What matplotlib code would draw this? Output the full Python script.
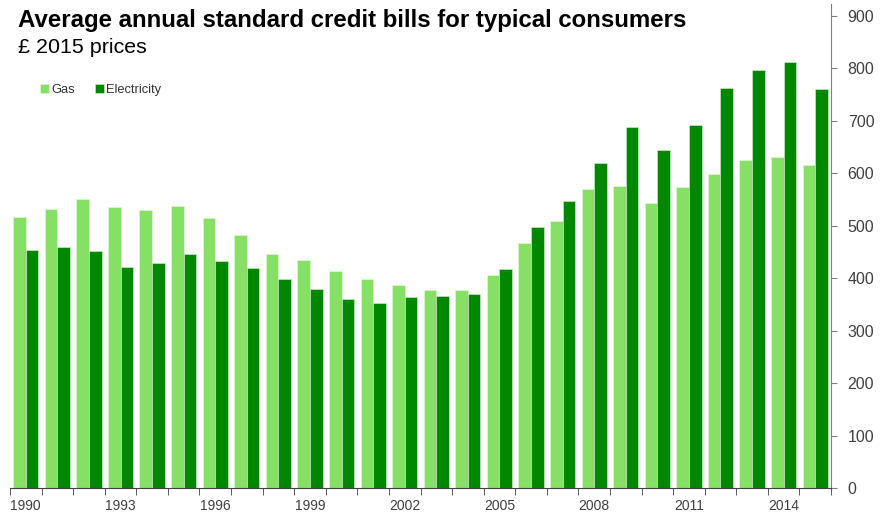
import matplotlib.pyplot as plt
import numpy as np

# Дані: роки та рахунки (£, ціни 2015 року)
years = list(range(1990, 2016))
gas = [516, 532, 551, 536, 531, 538, 514, 482, 446, 435, 414, 398, 387,
       378, 378, 406, 468, 510, 570, 575, 543, 574, 599, 625, 632, 616]
electricity = [454, 460, 452, 421, 429, 446, 433, 420, 398, 379, 360, 353, 365,
               366, 370, 418, 497, 547, 620, 688, 645, 693, 763, 797, 813, 760]
label_years = [1990, 1993, 1996, 1999, 2002, 2005, 2008, 2011, 2014]
y_ticks = [0, 100, 200, 300, 400, 500, 600, 700, 800, 900]

gas_color = "#86e066"
elec_color = "#008700"

plt.rcParams["font.family"] = ["Liberation Sans", "DejaVu Sans"]

fig = plt.figure(figsize=(8.91, 5.13), dpi=100)
ax = fig.add_axes([10 / 891, 25 / 513, 821 / 891, 484 / 513])

x = np.arange(len(years))
w = 0.4
ax.bar(x - w / 2, gas, w, color=gas_color, edgecolor="#e6f7df", linewidth=0.4, label="Gas")
ax.bar(x + w / 2, electricity, w, color=elec_color, edgecolor="#d8efd2", linewidth=0.4,
       label="Electricity")

ax.set_xlim(-0.5, len(years) - 0.5)
ax.set_ylim(0, 923)

# Вісь Y праворуч
ax.yaxis.tick_right()
ax.set_yticks(y_ticks)
ax.tick_params(axis="y", direction="out", length=4, color="#808080", labelsize=11.5,
               labelcolor="#404040", pad=8)

# Вісь X: риски між роками, підписи кожні 3 роки
ax.set_xticks(x[::3])
ax.set_xticklabels([str(y) for y in label_years])
ax.set_xticks(np.arange(-0.5, len(years), 1), minor=True)
ax.tick_params(axis="x", which="major", length=0, labelsize=10, labelcolor="#404040", pad=8)
ax.tick_params(axis="x", which="minor", length=5, color="#404040", direction="out")

for s in ["left", "top"]:
    ax.spines[s].set_visible(False)
ax.spines["right"].set_color("#808080")
ax.spines["bottom"].set_color("#404040")

fig.text(18 / 891, 1 - 27 / 513, "Average annual standard credit bills for typical consumers",
         fontsize=17.3, fontweight="bold", color="black", va="baseline")
fig.text(18 / 891, 1 - 53 / 513, "£ 2015 prices", fontsize=15.4, color="black", va="baseline")

ax.legend(loc="upper left", bbox_to_anchor=(40 / 891, 1 - 84 / 513),
          bbox_transform=fig.transFigure, ncol=2, frameon=False, fontsize=9.3,
          handlelength=0.7, handleheight=0.7, handletextpad=0.2, columnspacing=1.5,
          labelcolor="#333333", borderaxespad=0, borderpad=0)

fig.savefig("out.png", dpi=100)
